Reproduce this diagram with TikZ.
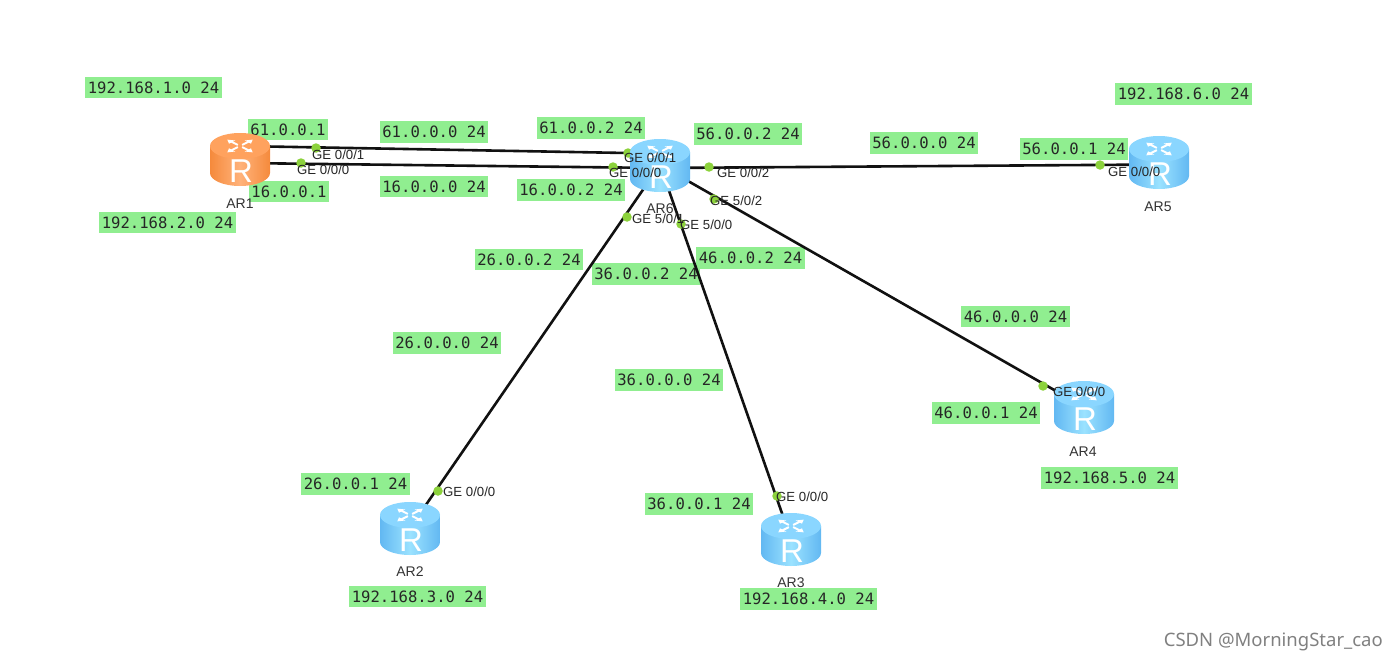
\documentclass[tikz,border=0pt]{standalone}
\usepackage{fontspec}
\setmainfont{Liberation Sans}
\newfontfamily\labelmono{DejaVu Sans Mono}
\newfontfamily\wmfont{Noto Sans}
\definecolor{lblgreen}{HTML}{90EE90}
\definecolor{dotgreen}{HTML}{8CD23C}
\definecolor{linkblack}{HTML}{111111}
\definecolor{blueEdge}{HTML}{62B8F2}
\definecolor{blueMid}{HTML}{9BE2FF}
\definecolor{blueTop}{HTML}{8AD6FF}
\definecolor{orangeEdge}{HTML}{F58A3C}
\definecolor{orangeMid}{HTML}{FFB27A}
\definecolor{orangeTop}{HTML}{FFA25E}
\tikzset{
  x=1pt,y=-1pt,
  netlabel/.style={fill=lblgreen,inner xsep=2.7pt,inner ysep=0pt,minimum height=21.5pt,
    font=\labelmono\fontsize{15.6}{16}\selectfont,text=black!85},
  routerbox/.style={inner sep=0pt,minimum width=60pt,minimum height=53pt},
  routername/.style={inner sep=0pt,font=\fontsize{14}{15}\selectfont,text=black!80},
  ifdot/.style={circle,fill=dotgreen,inner sep=0pt,minimum size=9.5pt},
  iflabel/.style={inner sep=0pt,anchor=west,font=\fontsize{13.2}{14}\selectfont,text=black!85},
  link/.style={draw=linkblack,line width=2.6pt},
}
\newcommand{\paintrouter}[4]{% node name, edge, mid, top
  \begin{scope}[shift={(#1.center)}]
    \path[left color=#2,right color=#2,middle color=#3]
      (-30,-13) -- (-30,14) arc[start angle=180,end angle=0,x radius=30,y radius=13] -- (30,-13) -- cycle;
    \path[fill=#4] (0,-13) ellipse[x radius=30,y radius=13];
    \begin{scope}[shift={(0,-13)},yscale=0.5]
      \foreach \a in {45,135,225,315}{
        \begin{scope}[rotate=\a]
          \draw[white,line width=2pt] (3,0) -- (12,0);
          \fill[white] (18,0) -- (11,-4.5) -- (11,4.5) -- cycle;
        \end{scope}
      }
    \end{scope}
    \node[inner sep=0pt,white,font=\fontsize{33}{33}\selectfont] (#1glyph) at (1,12) {R};
  \end{scope}
}
\begin{document}
\begin{tikzpicture}
\useasboundingbox (0,0) rectangle (1397,661);
% routers (position holders; painted later)
\node[routerbox] (ar1) at (240,159) {};
\node[routerbox] (ar6) at (660,165) {};
\node[routerbox] (ar5) at (1159,162) {};
\node[routerbox] (ar4) at (1084,407) {};
\node[routerbox] (ar2) at (410,528) {};
\node[routerbox] (ar3) at (791,539) {};
\coordinate (ar1up) at (240,146);
\coordinate (ar1lo) at (240,163);
\coordinate (ar6up) at (660,153.6);
\coordinate (ar6lo) at (660,168);
\coordinate (ar5in) at (1159,164.5);
% network labels
\node[netlabel] (n01) at (153.5,87.5) {192.168.1.0 24};
\node[netlabel] (n02) at (288,129.5) {61.0.0.1};
\node[netlabel] (n03) at (434,132) {61.0.0.0 24};
\node[netlabel] (n04) at (591,128) {61.0.0.2 24};
\node[netlabel] (n05) at (748,134) {56.0.0.2 24};
\node[netlabel] (n06) at (924,143) {56.0.0.0 24};
\node[netlabel] (n07) at (1074,149) {56.0.0.1 24};
\node[netlabel] (n08) at (1183.5,94) {192.168.6.0 24};
\node[netlabel] (n09) at (289,191.5) {16.0.0.1};
\node[netlabel] (n10) at (434,186.5) {16.0.0.0 24};
\node[netlabel] (n11) at (571,190) {16.0.0.2 24};
\node[netlabel] (n12) at (167.5,222.5) {192.168.2.0 24};
\node[netlabel] (n13) at (529,259.5) {26.0.0.2 24};
\node[netlabel] (n14) at (646,274) {36.0.0.2 24};
\node[netlabel] (n15) at (750.5,258) {46.0.0.2 24};
\node[netlabel] (n16) at (447,343) {26.0.0.0 24};
\node[netlabel] (n17) at (669,380) {36.0.0.0 24};
\node[netlabel] (n18) at (1015.5,316.5) {46.0.0.0 24};
\node[netlabel] (n19) at (986,413) {46.0.0.1 24};
\node[netlabel] (n20) at (1109.5,478) {192.168.5.0 24};
\node[netlabel] (n21) at (355.5,484) {26.0.0.1 24};
\node[netlabel] (n22) at (699,504) {36.0.0.1 24};
\node[netlabel] (n23) at (417.5,596.5) {192.168.3.0 24};
\node[netlabel] (n24) at (808.5,599) {192.168.4.0 24};
% links
\draw[link] (ar1up) -- (ar6up);
\draw[link] (ar1lo) -- (ar6lo);
\draw[link] (ar6lo) -- (ar5in);
\draw[link] (ar6.center) -- (ar4.center);
\draw[link] (ar6.center) -- (ar3.center);
\draw[link] (ar6.center) -- (ar2.center);
% interface dots
\node[ifdot] (d1) at (316,148) {};
\node[ifdot] (d2) at (301,163) {};
\node[ifdot] (d3) at (628,153) {};
\node[ifdot] (d4) at (613,167) {};
\node[ifdot] (d5) at (709,167) {};
\node[ifdot] (d6) at (714,199) {};
\node[ifdot] (d7) at (627,217) {};
\node[ifdot] (d8) at (681,224) {};
\node[ifdot] (d9) at (1100,165) {};
\node[ifdot] (d10) at (1043,386) {};
\node[ifdot] (d11) at (438,491) {};
\node[ifdot] (d12) at (777,496) {};
% routers painted over the links
\paintrouter{ar1}{orangeEdge}{orangeMid}{orangeTop}
\paintrouter{ar6}{blueEdge}{blueMid}{blueTop}
\paintrouter{ar5}{blueEdge}{blueMid}{blueTop}
\paintrouter{ar4}{blueEdge}{blueMid}{blueTop}
\paintrouter{ar2}{blueEdge}{blueMid}{blueTop}
\paintrouter{ar3}{blueEdge}{blueMid}{blueTop}
% router names
\node[routername] (t1) at (240,204) {AR1};
\node[routername] (t6) at (660,209) {AR6};
\node[routername] (t5) at (1158,207) {AR5};
\node[routername] (t4) at (1083,452) {AR4};
\node[routername] (t2) at (410,572) {AR2};
\node[routername] (t3) at (791,583) {AR3};
% interface names
\node[iflabel] (i1) at (312,155) {GE 0/0/1};
\node[iflabel] (i2) at (297,170) {GE 0/0/0};
\node[iflabel] (i3) at (624,158) {GE 0/0/1};
\node[iflabel] (i4) at (609,173) {GE 0/0/0};
\node[iflabel] (i5) at (717,173) {GE 0/0/2};
\node[iflabel] (i6) at (710,201) {GE 5/0/2};
\node[iflabel] (i7) at (632,219) {GE 5/0/1};
\node[iflabel] (i8) at (680,225) {GE 5/0/0};
\node[iflabel] (i9) at (1108,172) {GE 0/0/0};
\node[iflabel] (i10) at (1053,392) {GE 0/0/0};
\node[iflabel] (i11) at (443,492) {GE 0/0/0};
\node[iflabel] (i12) at (776,497) {GE 0/0/0};
% watermark
\node[inner sep=0pt,anchor=east,text=black!50,font=\wmfont\fontsize{18.5}{19}\selectfont] (wm) at (1383,642) {CSDN @MorningStar\_cao};
\end{tikzpicture}
\end{document}
